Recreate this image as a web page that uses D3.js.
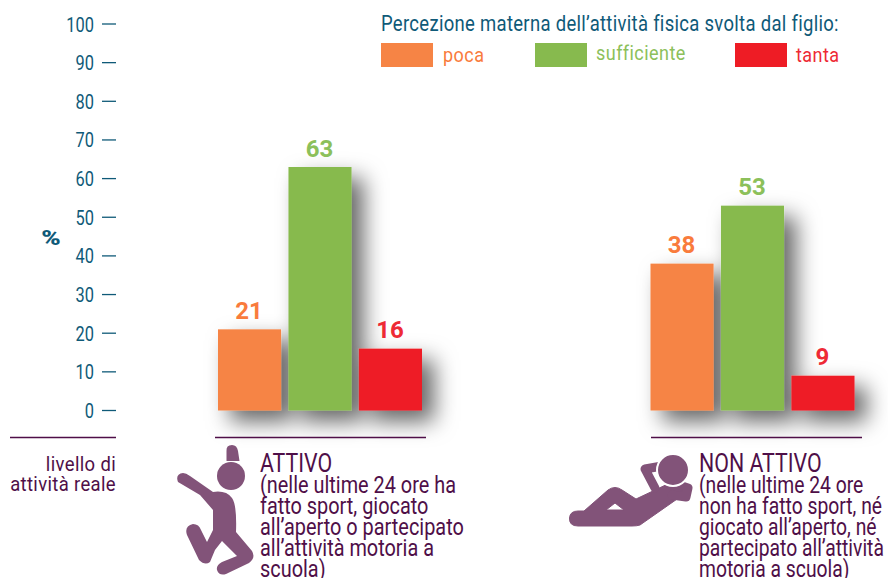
<!DOCTYPE html>
<html><head><meta charset="utf-8">
<script src="https://cdn.jsdelivr.net/npm/d3@7"></script>
<style>html,body{margin:0;padding:0;background:#fff;overflow:hidden}svg{display:block}text{font-family:Roboto,sans-serif}</style>
</head><body>
<svg id="c" width="888" height="578"></svg>
<script>
const categories = ["ATTIVO", "NON ATTIVO"];
const series = ["poca", "sufficiente", "tanta"];
const colors = ["#f68445", "#87ba4e", "#ee1c25"];
const labelColors = ["#f97b3c", "#8cc05a", "#ee2a35"];
const attivoValues = [21, 63, 16];
const nonAttivoValues = [38, 53, 9];
const yTicks = [0,10,20,30,40,50,60,70,80,90,100];
const legendTitle = "Percezione materna dell’attività fisica svolta dal figlio:";
const attivoNote = ["(nelle ultime 24 ore ha","fatto sport, giocato","all’aperto o partecipato","all’attività motoria a","scuola)"];
const nonAttivoNote = ["(nelle ultime 24 ore","non ha fatto sport, né","giocato all’aperto, né","partecipato all’attività","motoria a scuola)"];
const rowLabel = ["livello di","attività reale"];

const teal = "#0f5a78", plum = "#4f0f48", icon = "#825379";
const svg = d3.select("#c");
const defs = svg.append("defs");
const f = defs.append("filter").attr("id","sh").attr("filterUnits","userSpaceOnUse").attr("x",-600).attr("y",-100).attr("width",1600).attr("height",800);
f.append("feDropShadow").attr("dx",12).attr("dy",11).attr("stdDeviation",11).attr("flood-color","#000").attr("flood-opacity",0.6);

const y = d3.scaleLinear().domain([0,100]).range([410.5,24]);
const groupX = d3.scalePoint().domain(categories).range([320,752.5]);
const barX = d3.scaleBand().domain(series).range([-102,102]).paddingInner(0.105).paddingOuter(0);

function label(sel,x,yy,txt,opt){
  const o=Object.assign({sx:0.82,size:20,fill:teal,weight:400,anchor:"start",spacing:0},opt||{});
  return sel.append("text").attr("transform",`translate(${x},${yy}) scale(${o.sx},1)`)
    .attr("text-anchor",o.anchor).attr("font-size",o.size).attr("font-weight",o.weight)
    .attr("letter-spacing",o.spacing).attr("fill",o.fill).text(txt);
}

// y axis
const ax = svg.append("g");
yTicks.forEach(t=>{
  ax.append("line").attr("x1",102).attr("x2",116).attr("y1",y(t)).attr("y2",y(t)).attr("stroke",teal).attr("stroke-width",1.3);
  label(ax,94,y(t)+7.5,t,{anchor:"end",size:20.5,sx:0.8});
});
label(svg,51,245,"%",{anchor:"middle",size:21,weight:900,sx:1.25});

// bars
const groups = [attivoValues, nonAttivoValues];
categories.forEach((c,i)=>{
  const g = svg.append("g").attr("transform",`translate(${groupX(c)},0)`);
  const data = series.map((s,j)=>({s,v:groups[i][j],j}));
  g.append("g").attr("filter","url(#sh)").selectAll("rect").data(data).join("rect")
    .attr("x",d=>barX(d.s)).attr("width",barX.bandwidth())
    .attr("y",d=>y(d.v)).attr("height",d=>y(0)-y(d.v))
    .attr("fill",d=>colors[d.j]);
  data.forEach(d=>{
    label(g,barX(d.s)+barX.bandwidth()/2-0.5,y(d.v)-10.5,d.v,{anchor:"middle",size:24,weight:700,fill:labelColors[d.j],sx:1});
  });
});

// legend
label(svg,381,31,legendTitle,{size:21.5,sx:0.86,spacing:0.35});
const legendX=[381,535,735], legendTextX=[443,596,796], legendBase=[62,60,62];
series.forEach((s,i)=>{
  svg.append("rect").attr("x",legendX[i]).attr("y",43).attr("width",52).attr("height",24).attr("fill",colors[i]);
  label(svg,legendTextX[i],legendBase[i],s,{fill:labelColors[i],size:21,sx:0.86,spacing:0.5});
});

// rules
[[10,116],[215,426],[651,862]].forEach(r=>{
  svg.append("line").attr("x1",r[0]).attr("x2",r[1]).attr("y1",437.5).attr("y2",437.5).attr("stroke",plum).attr("stroke-width",1.3);
});

// captions
label(svg,116,471,rowLabel[0],{anchor:"end",size:21,sx:0.88,spacing:0.4,fill:plum});
label(svg,116,491,rowLabel[1],{anchor:"end",size:21,sx:0.88,spacing:0.4,fill:plum});
const lineYs=[493,514,535,556,577];
label(svg,260,472,categories[0],{size:25,sx:0.855,fill:plum});
attivoNote.forEach((t,i)=>label(svg,260,lineYs[i],t,{size:23,sx:0.865,fill:plum}));
label(svg,699,472,categories[1],{size:25,sx:0.855,fill:plum});
nonAttivoNote.forEach((t,i)=>label(svg,699,lineYs[i],t,{size:23,sx:0.84,fill:plum}));

// pictogram: active
const a = svg.append("g").attr("fill",icon);
a.append("circle").attr("cx",231).attr("cy",476).attr("r",14);
a.append("path").attr("d","M226.5 451 Q226 445 232 445 Q237 445 238 451 L239.5 461 L226.5 461 Z");
a.append("path").attr("d","M178 482 Q175 474 183 473 Q186 473 190 476 L213 492 Q226 490 232 498 Q237 505 236 532 L252 551 Q256 558 249 563 L226 574 Q219 576 217 570 Q216 565 222 562 L237 556 L222 541 L215 550 L210 562 Q205 566 199 560 L187 535 Q184 526 193 524 Q199 524 201 530 L207 542 L213 530 L213 510 L200 495 Z");

// pictogram: lying
const b = svg.append("g");
b.append("path").attr("fill",icon).attr("fill-rule","evenodd").attr("stroke",icon).attr("stroke-width",1).attr("stroke-linejoin","round")
 .attr("d","M578 511 L584 511 L608 490 Q615 485 622 490 L636 499 L672 482 L690 490 L640 525 Q637 526 632 526 L578 526 Q569 526 569.5 518 Q570 511 578 511 Z M606 510 L624 510 L615 503 Z");
b.append("path").attr("fill","none").attr("stroke",icon).attr("stroke-width",9).attr("stroke-linejoin","round").attr("stroke-linecap","round")
 .attr("d","M662 466 L645 469 L655 488 M682 486 L688 488 L686 497 L672 495");
b.append("circle").attr("cx",673).attr("cy",470).attr("r",16).attr("fill",icon).attr("stroke","#fff").attr("stroke-width",2);
</script>
</body></html>
